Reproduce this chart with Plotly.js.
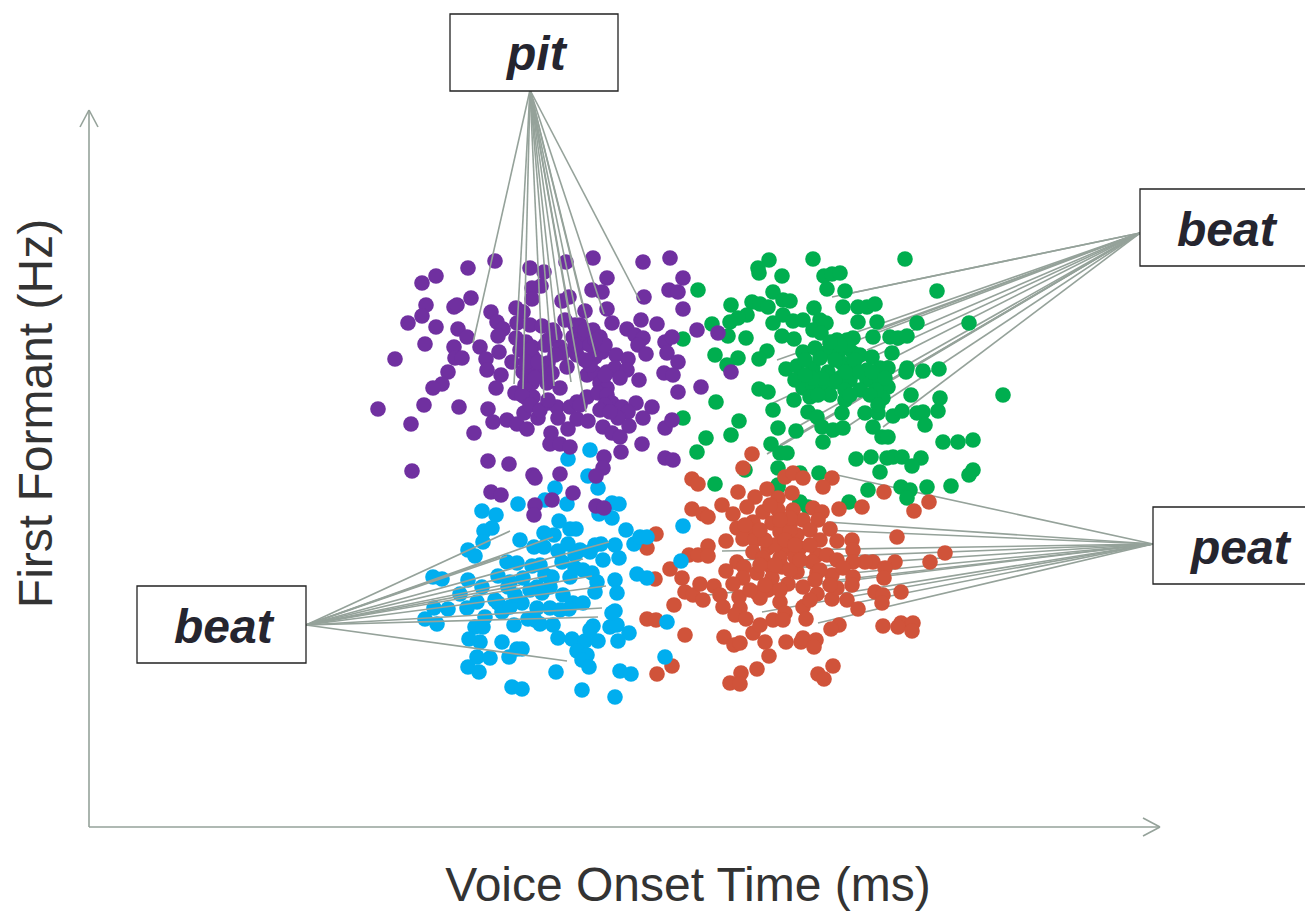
<!DOCTYPE html>
<html><head><meta charset="utf-8">
<script src="https://cdn.plot.ly/plotly-3.0.1.min.js"></script>
<style>html,body{margin:0;padding:0;background:#fff;overflow:hidden}#c{width:1305px;height:911px}</style>
</head><body><div id="c"></div>
<script>
const purpleX=[495,530,544,566,593,643,670,683,607,468,436,422,541,532,532,562,569,592,602,644,669,678,683,426,422,408,436,454,457,471,491,516,523,585,607,612,641,657,697,718,425,458,467,497,503,498,517,530,542,553,565,580,593,600,627,635,643,638,665,672,516,526,532,548,560,573,583,593,602,454,480,499,646,667,678,395,455,462,486,512,533,548,563,577,595,616,628,731,448,487,501,523,533,552,567,587,595,607,615,627,620,639,664,673,442,433,496,515,525,533,532,547,560,600,607,678,701,378,424,459,488,493,507,517,527,524,538,548,557,558,570,577,577,588,568,587,598,607,612,622,636,652,628,618,629,643,665,672,411,474,551,550,560,570,603,612,620,621,642,665,673,412,488,509,604,603,596,560,533,535,573,491,501,552,535,534,596,604,527,540,525,575,585,590,520,527,535,530,526,538,555,585,575,590,605,595,575,585,545,555,522,530,540,548,580,605,600,610,605];
const purpleY=[261,268,272,262,258,262,258,278,278,268,276,283,286,288,299,301,297,290,292,297,290,292,309,305,316,323,327,307,305,298,312,308,312,311,309,323,320,324,330,333,344,329,337,322,329,336,323,325,326,330,320,325,330,337,329,335,338,345,342,337,338,342,347,340,347,337,343,347,352,347,347,352,354,353,362,359,358,358,359,362,357,363,353,355,357,355,359,372,372,370,375,372,370,373,367,375,373,372,368,370,378,380,373,375,384,388,388,393,397,397,383,383,388,383,388,392,387,409,405,407,409,422,420,424,429,413,418,403,407,418,407,402,419,421,429,397,393,395,403,407,403,407,412,418,426,418,428,420,424,433,433,444,444,447,427,433,437,452,444,458,460,471,461,464,457,468,476,474,475,478,493,492,495,500,505,515,506,508,360,375,385,350,335,365,350,375,378,350,362,362,355,360,345,345,345,340,325,330,345,335,395,405,410,400,405,405,410,412,375];

const greenX=[769,758,759,813,905,782,824,832,840,827,845,937,698,773,731,752,760,768,783,790,814,843,858,867,875,747,738,730,712,728,746,683,773,783,793,803,820,826,858,877,917,969,782,794,813,821,873,890,898,907,892,837,847,853,767,759,738,715,727,803,815,827,840,853,860,872,786,797,813,828,842,852,867,880,888,907,906,923,939,795,803,813,827,840,850,867,880,888,759,768,794,810,830,845,883,911,1003,773,808,817,842,865,878,893,902,917,923,938,940,716,683,739,925,778,796,822,833,843,873,731,706,823,882,888,771,697,780,787,943,958,973,856,871,887,893,902,921,912,880,778,973,969,819,800,745,715,868,901,910,907,927,951,849,800,778,800,808,778,805,820,835,848,855,845,835,822,812,805,860,872,876,860,845,818,885,870,878,850,840,830];
const greenY=[260,268,273,259,259,276,276,274,273,289,291,291,290,292,305,302,304,307,300,301,308,307,307,307,304,315,318,322,324,336,338,339,323,315,321,320,320,323,322,322,323,323,336,339,330,333,337,337,338,336,353,340,340,338,351,359,358,355,365,352,348,352,350,353,355,357,369,366,368,372,363,367,370,368,368,368,372,371,369,380,388,387,387,378,380,380,380,387,389,392,400,397,395,400,398,395,395,410,412,417,413,413,413,416,411,413,412,411,398,402,418,421,425,428,431,427,430,428,427,435,438,442,437,437,444,452,453,453,442,442,440,459,457,458,457,457,458,466,472,468,470,475,473,473,470,484,490,487,490,498,487,486,502,502,487,503,507,485,360,358,360,345,360,372,382,378,378,375,372,372,390,390,390,395,378,395,405,395,345,342];

const orangeX=[752,743,692,698,785,793,803,832,823,884,767,738,755,792,778,929,722,747,692,703,708,839,862,914,733,763,778,793,813,822,818,753,772,790,803,737,750,780,797,810,830,656,743,755,820,837,852,897,726,708,647,753,768,783,800,853,689,698,708,817,827,763,780,795,945,930,895,873,865,837,853,737,812,744,726,670,682,757,772,782,797,817,832,843,853,885,884,743,733,772,788,803,655,685,693,700,714,720,703,757,768,817,832,837,847,852,875,883,882,901,674,739,723,760,780,803,858,740,735,746,785,773,783,806,647,656,839,831,883,901,898,913,912,685,753,760,724,734,740,765,786,801,803,816,814,769,672,657,757,833,818,824,741,730,740,790,775,765,785,795,760,775,790,765,780,750,810,790,770,780,745,820,830,760,800,815,810];
const orangeY=[454,468,479,484,477,473,478,478,487,492,489,492,497,493,498,502,505,507,509,514,517,509,507,511,514,512,510,510,508,512,520,522,523,525,520,528,530,532,535,530,529,534,539,540,540,541,540,537,541,546,548,552,548,550,548,550,555,555,556,555,555,558,558,557,553,562,562,562,562,560,562,562,562,567,571,569,578,573,568,567,572,573,575,568,577,568,578,578,584,578,584,587,579,592,595,584,586,595,600,593,590,594,599,588,600,585,592,595,603,592,605,597,607,598,602,607,609,608,615,619,613,620,620,619,619,620,625,629,626,623,627,623,631,635,633,625,637,645,643,642,642,642,638,640,647,656,666,674,669,666,674,679,673,683,684,530,545,540,540,545,565,565,570,585,590,590,545,518,505,520,525,570,585,530,560,580,600];

const blueX=[590,568,588,598,555,545,567,518,482,496,612,619,599,612,559,484,492,483,520,544,554,570,576,626,634,640,647,683,468,475,534,544,558,568,580,590,601,615,603,619,562,507,517,532,681,433,442,468,482,498,510,523,552,570,575,583,592,597,615,637,647,460,477,467,508,537,550,542,563,595,617,434,448,498,502,522,510,537,550,573,583,569,615,425,437,485,475,483,514,528,540,553,593,610,617,612,629,618,558,572,585,598,469,480,502,517,522,577,587,477,490,509,582,589,665,468,479,556,620,631,512,522,582,615,667,530,515,545,540,595,575,560,535,495,590];
const blueY=[450,459,476,488,488,500,504,504,511,515,503,504,514,518,521,531,528,542,540,533,535,529,529,530,544,537,537,526,550,556,547,547,551,544,550,552,544,545,560,558,562,562,563,566,561,577,579,580,587,576,582,578,577,577,568,570,573,582,580,574,578,594,602,608,587,587,587,593,595,592,593,608,609,603,612,603,607,608,608,603,603,609,611,619,624,617,627,627,625,619,624,625,626,627,625,613,633,641,638,639,641,641,639,642,642,649,649,651,655,657,658,657,660,667,657,667,672,672,671,674,687,689,690,697,622,590,595,575,565,545,555,610,620,600,630];

// Leader lines: one box anchor fanning out to several ends
const pitOrigin=[530,90], pitEndX=[473,514,523,544,554,571,586,596,604,640,557,572,577,582];
const pitEndY=[343,384,389,398,386,382,412,357,314,301,340,327,318,303];
const greenOrigin=[1140,233], greenEndX=[832,852,870,880,773,767,780,797,830,883,858,867,883,777,890];
const greenEndY=[297,293,333,328,403,454,445,427,438,427,340,350,363,360,380];
const peatOrigin=[1153,544], peatEndX=[837,827,822,722,708,762,818,740,760,780,770,800,850];
const peatEndY=[475,522,530,551,595,612,623,560,570,580,590,600,604];
const blueOrigin=[306,625], blueEndX=[510,553,609,583,547,592,606,602,598,567,507,500,520];
const blueEndY=[531,537,542,559,576,576,586,608,617,661,556,557,585];

// Plot area in page pixels, so that paper-anchored decorations can use page positions
const plotL=89, plotR=1287, plotB=827;
const xp=v=>(v-plotL)/(plotR-plotL), yp=v=>1-v/plotB;

// Axes with open arrowheads: [x0,y0,x1,y1]
const axisSegments=[[89,110,89,827],[89,827,1160,827],[80,127,89,110],[98,127,89,110],[1143,818,1160,827],[1143,836,1160,827]];

const boxLabels=['pit','beat','peat','beat'];
const labelX=[536,1227,1240,224];
const labelY=[53,229,547,626];
// Label boxes: [left,top,right,bottom]
const boxRects=[[450,14,618,91],[1140,189,1312,266],[1153,507,1312,584],[137,586,306,663]];

const gray='#95A29A';
function fan(o,ex,ey){
  const x=[],y=[];
  ex.forEach((v,i)=>{x.push(o[0],v,null);y.push(o[1],ey[i],null);});
  return {x,y,type:'scatter',mode:'lines',line:{color:gray,width:1.6},cliponaxis:false,hoverinfo:'skip',showlegend:false};
}
function dots(x,y,c,name){
  return {x,y,name,type:'scatter',mode:'markers',marker:{color:c,size:15.6,line:{width:0}},cliponaxis:false,showlegend:false};
}
const data=[
  fan(greenOrigin,greenEndX,greenEndY),
  fan(peatOrigin,peatEndX,peatEndY),
  dots(greenX,greenY,'#00AE4F','beat (green)'),
  dots(orangeX,orangeY,'#D0533A','peat'),
  dots(blueX,blueY,'#00AEEF','beat (blue)'),
  fan(blueOrigin,blueEndX,blueEndY),
  dots(purpleX,purpleY,'#7030A0','pit'),
  fan(pitOrigin,pitEndX,pitEndY)
];
const shapes=[
  ...axisSegments.map(s=>({type:'line',xref:'paper',yref:'paper',x0:xp(s[0]),y0:yp(s[1]),x1:xp(s[2]),y1:yp(s[3]),line:{color:gray,width:1.6}})),
  ...boxRects.map(r=>({type:'rect',xref:'paper',yref:'paper',x0:xp(r[0]),y0:yp(r[1]),x1:xp(r[2]),y1:yp(r[3]),line:{color:'#222',width:1.3},fillcolor:'#fff',layer:'above'}))
];
const annotations=boxLabels.map((t,i)=>({
  x:labelX[i],y:labelY[i],xref:'x',yref:'y',text:'<b><i>'+t+'</i></b>',showarrow:false,
  font:{family:'Liberation Sans',size:48,color:'#25252F'},xanchor:'center',yanchor:'middle',align:'center'
}));
const axisFont={family:'Liberation Sans',size:48,color:'#333333'};
const layout={
  width:1305,height:911,paper_bgcolor:'#fff',plot_bgcolor:'#fff',
  margin:{l:89,r:18,t:0,b:84,pad:0},showlegend:false,
  xaxis:{range:[89,1287],showgrid:false,zeroline:false,showline:false,showticklabels:false,ticks:'',
    title:{text:'Voice Onset Time (ms)',font:axisFont,standoff:42}},
  yaxis:{range:[827,0],showgrid:false,zeroline:false,showline:false,showticklabels:false,ticks:'',
    title:{text:'First Formant (Hz)',font:axisFont,standoff:20}},
  shapes,annotations
};
Plotly.newPlot('c',data,layout,{displayModeBar:false,responsive:false});
</script></body></html>
